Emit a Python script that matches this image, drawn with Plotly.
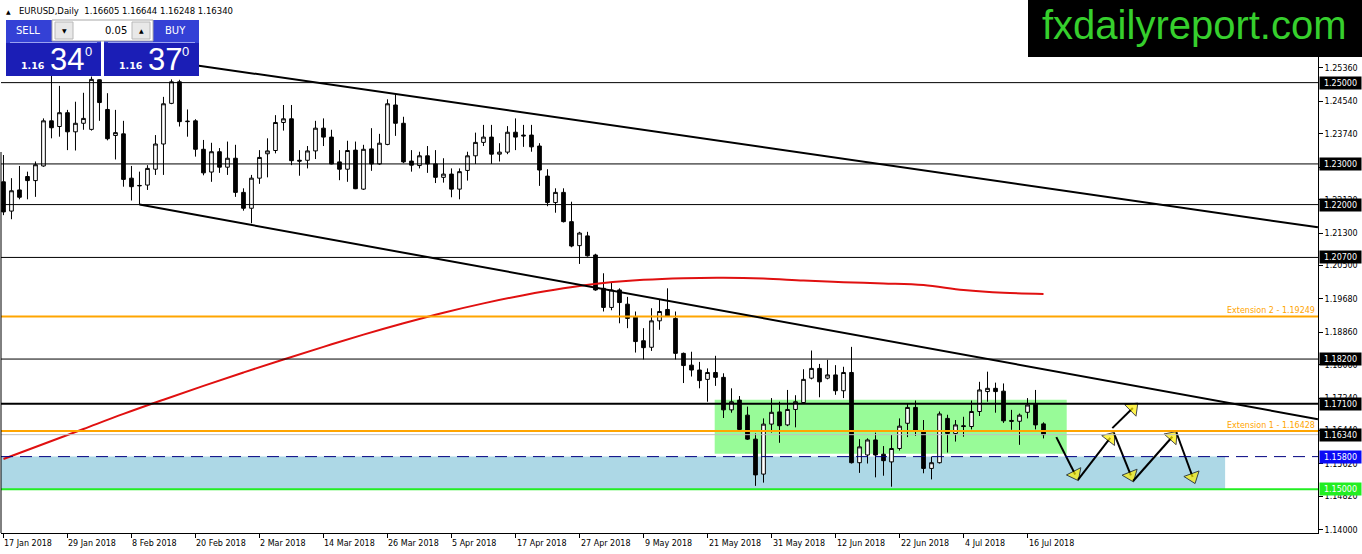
import math
import pandas as pd
import plotly.graph_objects as go

# EURUSD daily candles (17 Jan 2018 .. 18 Jul 2018)
opens = [1.2256, 1.2184, 1.2236, 1.2269, 1.2259, 1.2295, 1.2406, 1.2392, 1.2426, 1.2379,
         1.2400, 1.2385, 1.2507, 1.2434, 1.2370, 1.2374, 1.2265, 1.2246, 1.2248, 1.2287,
         1.2349, 1.2449, 1.2502, 1.2404, 1.2406, 1.2336, 1.2280, 1.2330, 1.2292, 1.2314,
         1.2230, 1.2191, 1.2265, 1.2325, 1.2333, 1.2402, 1.2411, 1.2309, 1.2309, 1.2332,
         1.2388, 1.2366, 1.2305, 1.2287, 1.2334, 1.2238, 1.2337, 1.2300, 1.2348, 1.2445,
         1.2400, 1.2307, 1.2296, 1.2320, 1.2300, 1.2267, 1.2275, 1.2238, 1.2284, 1.2320,
         1.2353, 1.2366, 1.2324, 1.2329, 1.2378, 1.2371, 1.2371, 1.2344, 1.2270, 1.2205,
         1.2230, 1.2158, 1.2099, 1.2123, 1.2076, 1.1994, 1.1947, 1.1990, 1.1955, 1.1923,
         1.1865, 1.1849, 1.1914, 1.1942, 1.1920, 1.1834, 1.1805, 1.1793, 1.1770, 1.1787,
         1.1775, 1.1695, 1.1719, 1.1682, 1.1623, 1.1537, 1.1660, 1.1690, 1.1658, 1.1696,
         1.1713, 1.1773, 1.1797, 1.1773, 1.1781, 1.1742, 1.1787, 1.1565, 1.1584, 1.1621,
         1.1586, 1.1567, 1.1600, 1.1662, 1.1701, 1.1641, 1.1551, 1.1565, 1.1674, 1.1637,
         1.1656, 1.1654, 1.1691, 1.1740, 1.1748, 1.1741, 1.1669, 1.1667, 1.1689, 1.1709,
         1.16605]
highs = [1.2322, 1.2265, 1.2295, 1.2281, 1.2306, 1.2412, 1.2520, 1.2492, 1.2433, 1.2453,
         1.2475, 1.2515, 1.2508, 1.2474, 1.2433, 1.2406, 1.2295, 1.2281, 1.2297, 1.2371,
         1.2465, 1.2508, 1.2507, 1.2434, 1.2410, 1.2359, 1.2352, 1.2339, 1.2355, 1.2347,
         1.2240, 1.2273, 1.2334, 1.2363, 1.2420, 1.2445, 1.2445, 1.2334, 1.2344, 1.2406,
         1.2412, 1.2384, 1.2334, 1.2357, 1.2355, 1.2347, 1.2388, 1.2374, 1.2459, 1.2472,
         1.2416, 1.2334, 1.2330, 1.2344, 1.2334, 1.2314, 1.2289, 1.2289, 1.2330, 1.2377,
         1.2396, 1.2396, 1.2351, 1.2393, 1.2412, 1.2396, 1.2396, 1.2351, 1.2287, 1.2240,
         1.2240, 1.2207, 1.2133, 1.2133, 1.2079, 1.2031, 1.2008, 1.1994, 1.1973, 1.1937,
         1.1896, 1.1945, 1.1967, 1.1994, 1.1937, 1.1836, 1.1838, 1.1813, 1.1797, 1.1828,
         1.1785, 1.1748, 1.1729, 1.1703, 1.1637, 1.1674, 1.1724, 1.1715, 1.1744, 1.1731,
         1.1795, 1.1841, 1.1808, 1.1818, 1.1805, 1.1801, 1.1850, 1.1623, 1.1625, 1.1639,
         1.1606, 1.1633, 1.1674, 1.1711, 1.1718, 1.1670, 1.1580, 1.1691, 1.1683, 1.1670,
         1.1678, 1.1718, 1.1764, 1.1789, 1.1762, 1.1760, 1.1695, 1.1686, 1.1724, 1.1744,
         1.16644]
lows = [1.2174, 1.2164, 1.2213, 1.2213, 1.2219, 1.2293, 1.2363, 1.2367, 1.2334, 1.2333,
        1.2384, 1.2382, 1.2406, 1.2358, 1.2311, 1.2244, 1.2210, 1.2201, 1.2236, 1.2273,
        1.2273, 1.2447, 1.2392, 1.2367, 1.2318, 1.2272, 1.2256, 1.2278, 1.2273, 1.2219,
        1.2185, 1.2154, 1.2251, 1.2267, 1.2326, 1.2382, 1.2297, 1.2271, 1.2289, 1.2312,
        1.2344, 1.2299, 1.2260, 1.2256, 1.2238, 1.2236, 1.2283, 1.2298, 1.2346, 1.2369,
        1.2302, 1.2281, 1.2289, 1.2278, 1.2253, 1.2254, 1.2218, 1.2213, 1.2259, 1.2300,
        1.2344, 1.2300, 1.2306, 1.2324, 1.2334, 1.2342, 1.2330, 1.2246, 1.2196, 1.2180,
        1.2156, 1.2095, 1.2054, 1.2072, 1.1988, 1.1937, 1.1940, 1.1908, 1.1896, 1.1836,
        1.1819, 1.1840, 1.1892, 1.1924, 1.1819, 1.1761, 1.1777, 1.1748, 1.1715, 1.1754,
        1.1675, 1.1688, 1.1645, 1.1621, 1.1508, 1.1516, 1.1639, 1.1614, 1.1655, 1.1652,
        1.1711, 1.1770, 1.1726, 1.1770, 1.1732, 1.1724, 1.1563, 1.1540, 1.1563, 1.1529,
        1.1533, 1.1506, 1.1595, 1.1628, 1.1631, 1.1539, 1.1524, 1.1563, 1.1590, 1.1617,
        1.1629, 1.1647, 1.1680, 1.1715, 1.1688, 1.1663, 1.1646, 1.1609, 1.1674, 1.1647,
        1.16248]
closes = [1.2182, 1.2234, 1.2218, 1.2259, 1.2298, 1.2406, 1.2389, 1.2426, 1.2379, 1.2400,
          1.2412, 1.2508, 1.2451, 1.2362, 1.2377, 1.2262, 1.2244, 1.2247, 1.2289, 1.2349,
          1.2448, 1.2502, 1.2404, 1.2405, 1.2336, 1.2278, 1.2330, 1.2292, 1.2314, 1.2230,
          1.2191, 1.2265, 1.2316, 1.2332, 1.2402, 1.2411, 1.2308, 1.2307, 1.2332, 1.2388,
          1.2366, 1.2300, 1.2287, 1.2333, 1.2239, 1.2336, 1.2300, 1.2351, 1.2448, 1.2400,
          1.2305, 1.2297, 1.2320, 1.2300, 1.2267, 1.2275, 1.2238, 1.2281, 1.2320, 1.2353,
          1.2366, 1.2324, 1.2329, 1.2378, 1.2366, 1.2369, 1.2342, 1.2285, 1.2205, 1.2230,
          1.2158, 1.2098, 1.2130, 1.2074, 1.1990, 1.1947, 1.1990, 1.1959, 1.1920, 1.1863,
          1.1848, 1.1914, 1.1937, 1.1926, 1.1834, 1.1804, 1.1793, 1.1767, 1.1787, 1.1775,
          1.1695, 1.1715, 1.1647, 1.1623, 1.1535, 1.1660, 1.1689, 1.1656, 1.1696, 1.1715,
          1.1770, 1.1797, 1.1764, 1.1781, 1.1742, 1.1787, 1.1565, 1.1604, 1.1621, 1.1584,
          1.1570, 1.1600, 1.1655, 1.1701, 1.1645, 1.1551, 1.1565, 1.1685, 1.1637, 1.1658,
          1.1654, 1.1691, 1.1744, 1.1748, 1.1740, 1.1668, 1.1667, 1.1682, 1.1707, 1.1658,
          1.16340]
dates = pd.bdate_range("2018-01-17", periods=len(opens))
bars = list(range(len(opens)))

# red moving average, read every 5 bars
ma_bars = list(range(0, 131, 5))
ma_values = [1.1574, 1.1611, 1.1648, 1.1685, 1.1720, 1.1754, 1.1787, 1.1819, 1.1850,
             1.1880, 1.1908, 1.1934, 1.1957, 1.1977, 1.1994, 1.2007, 1.2015, 1.2019,
             1.2020, 1.2018, 1.2013, 1.2009, 1.2006, 1.2002, 1.1990, 1.1983, 1.1980]

# drawn objects
black_levels = [1.25, 1.23, 1.22, 1.207, 1.182]
resistance = 1.171
bid = 1.1634
dashed_level = 1.158
support = 1.15
extensions = [("Extension 2 - 1.19249", 1.19249), ("Extension 1 - 1.16428", 1.16428)]
upper_trend = ([24, 164.3], [1.2543, 1.2144])
lower_trend = ([17, 164.3], [1.2200, 1.1672])
green_box = (88.9, 132.9, 1.1587, 1.1720)
blue_box = (-1, 152.7, 1.150, 1.158)
zigzag_x = [131.6, 134.3, 138.8, 141.2, 146.6, 148.9]
zigzag_y = [1.1628, 1.1523, 1.1638, 1.1520, 1.1640, 1.1516]
side_arrow = ([138.6, 141.7], [1.1650, 1.1710])

y_ticks = [1.2536, 1.2454, 1.2374, 1.2292, 1.2212, 1.2130, 1.2050, 1.1968,
           1.1886, 1.1806, 1.1724, 1.1644, 1.1562, 1.1482, 1.1400]
x_ticks = list(range(0, len(opens), 8))

W, H = 1362, 554
ML, MR, MT, MB = 1, 44, 1, 21
PW, PH = W - ML - MR, H - MT - MB
X_RANGE = [-0.31, 164.31]
Y_RANGE = [1.13921, 1.27008]
PX_PER_BAR = PW / (X_RANGE[1] - X_RANGE[0])
PX_PER_PRICE = PH / (Y_RANGE[1] - Y_RANGE[0])


def xp(px):
    return (px - ML) / PW


def yp(py):
    return (H - MB - py) / PH


fig = go.Figure()

fig.add_trace(go.Candlestick(
    x=bars, open=opens, high=highs, low=lows, close=closes,
    increasing=dict(line=dict(color="black", width=1), fillcolor="white"),
    decreasing=dict(line=dict(color="black", width=1), fillcolor="black"),
    whiskerwidth=0, showlegend=False, hoverinfo="skip",
))

fig.add_trace(go.Scatter(
    x=ma_bars, y=ma_values, mode="lines", line=dict(color="#e01010", width=2, shape="spline"),
    showlegend=False, hoverinfo="skip",
))


def arrow(x0, y0, x1, y1):
    # pull the head back so its tip sits on the end point
    dx = (x1 - x0) * PX_PER_BAR
    dy = (y1 - y0) * PX_PER_PRICE
    back = 6 / math.hypot(dx, dy)
    xm = x1 - (x1 - x0) * back
    ym = y1 - (y1 - y0) * back
    fig.add_trace(go.Scatter(
        x=[x0, xm], y=[y0, ym], mode="lines+markers",
        line=dict(color="black", width=2),
        marker=dict(symbol="triangle-up", size=[0, 14], color="#ffee00",
                    line=dict(color="black", width=1), angleref="previous"),
        showlegend=False, hoverinfo="skip", cliponaxis=False,
    ))


for k in range(len(zigzag_x) - 1):
    arrow(zigzag_x[k], zigzag_y[k], zigzag_x[k + 1], zigzag_y[k + 1])
arrow(side_arrow[0][0], side_arrow[1][0], side_arrow[0][1], side_arrow[1][1])

shapes = []
# boxes behind the candles
shapes.append(dict(type="rect", xref="x", yref="y", x0=blue_box[0], x1=blue_box[1],
                   y0=blue_box[2], y1=blue_box[3], fillcolor="#add8e6", line=dict(width=0),
                   layer="below"))
shapes.append(dict(type="rect", xref="x", yref="y", x0=green_box[0], x1=green_box[1],
                   y0=green_box[2], y1=green_box[3], fillcolor="#98fb98", line=dict(width=0),
                   layer="below"))


def hline(price, color, width=1, dash="solid"):
    shapes.append(dict(type="line", xref="paper", yref="y", x0=0, x1=1, y0=price, y1=price,
                       line=dict(color=color, width=width, dash=dash)))


for lv in black_levels:
    hline(lv, "black")
hline(resistance, "black", 2)
hline(bid, "#c0c0c0")
hline(dashed_level, "#000080", 1, "12px,7px")
hline(support, "#22ee22", 2)
for _, lv in extensions:
    hline(lv, "#ffa500", 2)

for tx, ty in (upper_trend, lower_trend):
    shapes.append(dict(type="line", xref="x", yref="y", x0=tx[0], x1=tx[1], y0=ty[0], y1=ty[1],
                       line=dict(color="black", width=2)))

# left frame edge
shapes.append(dict(type="line", xref="paper", yref="paper", x0=0, x1=0, y0=0, y1=yp(152),
                   line=dict(color="black", width=1)))


def prect(x0, y0, x1, y1, fill, border=None):
    shapes.append(dict(type="rect", xref="paper", yref="paper", x0=xp(x0), x1=xp(x1),
                       y0=yp(y1), y1=yp(y0), fillcolor=fill, layer="above",
                       line=dict(width=1 if border else 0, color=border or fill)))


# one-click trading panel
for bx in (6, 104):
    prect(bx, 20, bx + 95, 76, "#1b1eb6")
    prect(bx, 20, bx + 95, 43, "#3441d6")
    shapes.append(dict(type="line", xref="paper", yref="paper", x0=xp(bx + 4), x1=xp(bx + 91),
                       y0=yp(42.5), y1=yp(42.5), layer="above",
                       line=dict(color="#9aa2f0", width=1)))
prect(52, 20, 153, 41, "white", "#a8a8a8")
prect(55, 22, 73, 39, "#e8e8e8", "#b8b8b8")
prect(132, 22, 150, 39, "#e8e8e8", "#b8b8b8")

# logo
prect(1028, -2, 1364, 57, "black")

fig.update_layout(shapes=shapes)

ann = []


def ptext(x, y, text, size, color="black", family="DejaVu Sans", xanchor="center"):
    ann.append(dict(xref="paper", yref="paper", x=xp(x), y=yp(y), text=text, showarrow=False,
                    xanchor=xanchor, yanchor="middle",
                    font=dict(family=family, size=size, color=color)))


ptext(4, 11, "▲", 6, xanchor="left")
ptext(17, 11, f"EURUSD,Daily  {opens[-1]:.5f} {highs[-1]:.5f} {lows[-1]:.5f} {closes[-1]:.5f}",
      8.5, xanchor="left")

ptext(28, 31, "SELL", 10, "white")
ptext(175, 31, "BUY", 10, "white")
ptext(129, 30, "0.05", 10, xanchor="right")
ptext(64, 30, "▼", 6)
ptext(141, 30, "▲", 6)
for cx, pips in ((6, "34"), (104, "37")):
    ptext(cx + 27, 66, "<b>1.16</b>", 9.5, "white")
    ptext(cx + 61, 60, pips, 31, "white", "Liberation Sans")
    ptext(cx + 82, 51, "0", 13, "white", "Liberation Sans")

ptext(1194, 25, "fxdailyreport.com", 40, "#36cf2d", "Liberation Sans")

for txt, lv in extensions:
    ann.append(dict(xref="paper", yref="y", x=1, y=lv, text=txt, showarrow=False,
                    xanchor="right", yanchor="bottom", xshift=-1, yshift=-1,
                    font=dict(family="DejaVu Sans", size=8, color="#ffa500")))


def tag(price, bg):
    ann.append(dict(xref="paper", yref="y", x=1, y=price, text=f"{price:.5f}", showarrow=False,
                    xanchor="left", yanchor="middle", xshift=1, bgcolor=bg, borderpad=1,
                    width=39, height=10,
                    font=dict(family="DejaVu Sans", size=8, color="white")))


for lv in black_levels + [resistance, bid]:
    tag(lv, "black")
tag(dashed_level, "#0b0bf5")
tag(support, "#22ee22")

for i in x_ticks:
    d = dates[i]
    ann.append(dict(xref="x", yref="paper", x=i, y=yp(543), text=f"{d.day} {d:%b %Y}",
                    showarrow=False, xanchor="left", yanchor="middle", xshift=-1,
                    font=dict(family="DejaVu Sans", size=8, color="black")))

fig.update_layout(
    annotations=ann,
    width=W, height=H,
    margin=dict(l=ML, r=MR, t=MT, b=MB),
    paper_bgcolor="white", plot_bgcolor="white",
    showlegend=False,
    boxgap=0.34,
    xaxis=dict(range=X_RANGE, showgrid=False, zeroline=False, rangeslider=dict(visible=False),
               tickvals=x_ticks, showticklabels=False, ticks="outside", ticklen=4,
               tickcolor="black", showline=True, linecolor="black", linewidth=1),
    yaxis=dict(range=Y_RANGE, side="right", showgrid=False, zeroline=False,
               tickvals=y_ticks, ticktext=[f"{v:.5f}" for v in y_ticks],
               ticks="outside", ticklen=4, tickcolor="black",
               tickfont=dict(family="DejaVu Sans", size=8, color="black"),
               showline=True, linecolor="black", linewidth=1),
)

# the page's default body margin would push the chart 8px off the window
fig.write_html("out.html", config={"displayModeBar": False},
               post_script="document.body.style.margin = '0px';")
